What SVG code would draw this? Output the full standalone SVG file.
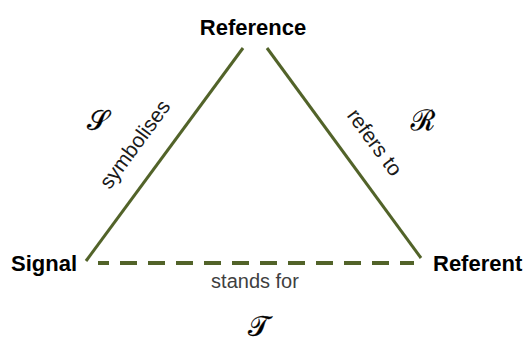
<svg xmlns="http://www.w3.org/2000/svg" width="531" height="342" viewBox="0 0 531 342">
<style>
.edge{stroke:#526329;stroke-width:3;fill:none}
.dash{stroke:#526329;stroke-width:4;fill:none;stroke-dasharray:17 11;stroke-dashoffset:6}
.node{font-family:"Liberation Sans",Arial,sans-serif;font-weight:bold;font-size:22px;fill:#000}
.lbl{font-family:"Liberation Sans",Arial,sans-serif;font-size:21px;fill:#1a1a1a}
.sym{font-family:"DejaVu Serif","Noto Sans","Liberation Serif",serif;font-size:28px;fill:#000;stroke:#000;stroke-width:0.3;text-anchor:middle}
</style>
<rect width="531" height="342" fill="#fff"/>
<g id="connectors">
<line class="edge" x1="86" y1="261" x2="243" y2="48"/>
<line class="edge" x1="267" y1="48" x2="421" y2="258"/>
<line class="dash" x1="98" y1="263" x2="414" y2="263"/>
<text class="lbl" text-anchor="middle" transform="translate(140.5,148.4) rotate(-53.6)">symbolises</text>
<text class="lbl" text-anchor="middle" transform="translate(369,146.5) rotate(53.7)">refers to</text>
<text class="lbl" text-anchor="middle" x="255" y="288" style="font-size:20px;fill:#3f3f3f">stands for</text>
<text class="sym" x="98" y="130">𝒮</text>
<text class="sym" x="423" y="130">ℛ</text>
<text class="sym" x="258" y="336">𝒯</text>
</g>
<g id="reference"><text class="node" x="253" y="35" text-anchor="middle">Reference</text></g>
<g id="signal"><text class="node" x="11" y="271">Signal</text></g>
<g id="referent"><text class="node" x="433" y="271">Referent</text></g>
</svg>
